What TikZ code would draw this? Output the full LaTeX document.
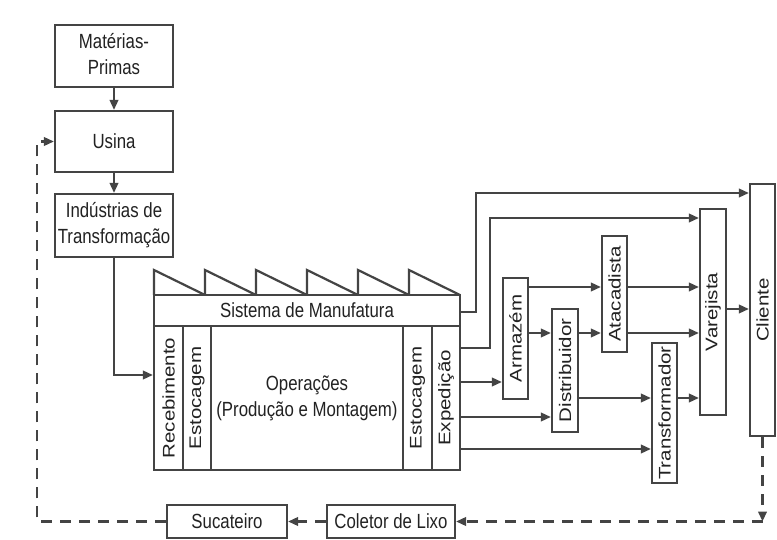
\documentclass[tikz,border=0pt]{standalone}
\usepackage{fontspec}
\setmainfont{Liberation Sans}
\usepackage{graphicx}
\usetikzlibrary{arrows.meta}
\definecolor{ln}{HTML}{444444}
\definecolor{tx}{HTML}{222222}
\newcommand\hsq[1]{\scalebox{0.82}[1]{#1}}
\newcommand\vsq[1]{\scalebox{0.82}[1]{\rotatebox{90}{#1}}}
\begin{document}
\begin{tikzpicture}[x=1pt,y=-1pt,
 box/.style={draw=ln, line width=2.2pt, inner sep=0pt, text=tx, font=\fontsize{20.5}{26}\selectfont},
 tip/.style={-{Triangle[length=10pt,width=8.5pt]}},
 arr/.style={draw=ln, line width=2.2pt, tip},
 lnk/.style={draw=ln, line width=2.2pt},
 dsh/.style={draw=ln, line width=2.2pt, dash pattern=on 11pt off 8pt, tip}]
\useasboundingbox (0,0) rectangle (777,540);
\fill[white] (0,0) rectangle (777,540);
% left column
\node[box, minimum width=118, minimum height=62] (mat) at (114,56) {\hsq{\begin{tabular}{@{}c@{}}Matérias-\\Primas\end{tabular}}};
\node[box, minimum width=118, minimum height=61] (usi) at (114,141.5) {\hsq{Usina}};
\node[box, minimum width=118, minimum height=63] (ind) at (114,225.5) {\hsq{\begin{tabular}{@{}c@{}}Indústrias de\\Transformação\end{tabular}}};
% factory
\foreach \x in {154,205,256,307,358,409} \draw[lnk, line join=miter] (\x,295) -- (\x,270) -- ({\x+51},295);
\node[box, minimum width=306, minimum height=31] (sis) at (307,310.5) {\hsq{Sistema de Manufatura}};
\node[box, minimum width=29, minimum height=144] (rec) at (168.5,398) {\vsq{Recebimento}};
\node[box, minimum width=28, minimum height=144] (est1) at (197,398) {\vsq{Estocagem}};
\node[box, minimum width=192, minimum height=144] (ope) at (307,398) {\hsq{\begin{tabular}{@{}c@{}}Operações\\(Produção e Montagem)\end{tabular}}};
\node[box, minimum width=29, minimum height=144] (est2) at (417.5,398) {\vsq{Estocagem}};
\node[box, minimum width=28, minimum height=144] (exp) at (446,398) {\vsq{Expedição}};
% distribution chain
\node[box, minimum width=25, minimum height=121] (arm) at (515.5,338.5) {\vsq{Armazém}};
\node[box, minimum width=26, minimum height=123] (dis) at (565,370.5) {\vsq{Distribuidor}};
\node[box, minimum width=25, minimum height=116] (ata) at (614.5,294) {\vsq{Atacadista}};
\node[box, minimum width=25, minimum height=140] (tra) at (664.5,413) {\vsq{Transformador}};
\node[box, minimum width=26, minimum height=206] (var) at (713,312) {\vsq{Varejista}};
\node[box, minimum width=25, minimum height=252] (cli) at (762.5,310) {\vsq{Cliente}};
% bottom
\node[box, minimum width=120, minimum height=33] (suc) at (227,521.5) {\hsq{Sucateiro}};
\node[box, minimum width=128, minimum height=33] (col) at (391,521.5) {\hsq{Coletor de Lixo}};
% connectors
\draw[arr] (mat.south) -- (usi.north);
\draw[arr] (usi.south) -- (ind.north);
\draw[arr] (ind.south) |- (rec.west |- 0,375);
\draw[arr] (sis.east |- 0,312) -- ++(15,0) |- (cli.west |- 0,193);
\draw[arr] (exp.east |- 0,348) -- ++(29,0) |- (var.west |- 0,218);
\draw[arr] (exp.east |- 0,382) -- (arm.west |- 0,382);
\draw[arr] (exp.east |- 0,417) -- (dis.west |- 0,417);
\draw[arr] (exp.east |- 0,449) -- (tra.west |- 0,449);
\draw[arr] (arm.east |- 0,287) -- (ata.west |- 0,287);
\draw[arr] (arm.east |- 0,333) -- (dis.west |- 0,333);
\draw[arr] (dis.east |- 0,333) -- (ata.west |- 0,333);
\draw[arr] (ata.east |- 0,287) -- (var.west |- 0,287);
\draw[arr] (ata.east |- 0,333) -- (var.west |- 0,333);
\draw[arr] (dis.east |- 0,398) -- (tra.west |- 0,398);
\draw[arr] (tra.east |- 0,398) -- (var.west |- 0,398);
\draw[arr] (var.east |- 0,309) -- (cli.west |- 0,309);
% dashed return loop
\coordinate (cr) at (762.5,521.5);
\coordinate (cl) at (37,521.5);
\draw[dsh] (cli.south) -- (cr);
\draw[dsh] (cr) -- (col.east);
\draw[dsh] (col.west) -- (suc.east);
\draw[dsh] (suc.west) -- (cl) |- (usi.west);
\end{tikzpicture}
\end{document}
